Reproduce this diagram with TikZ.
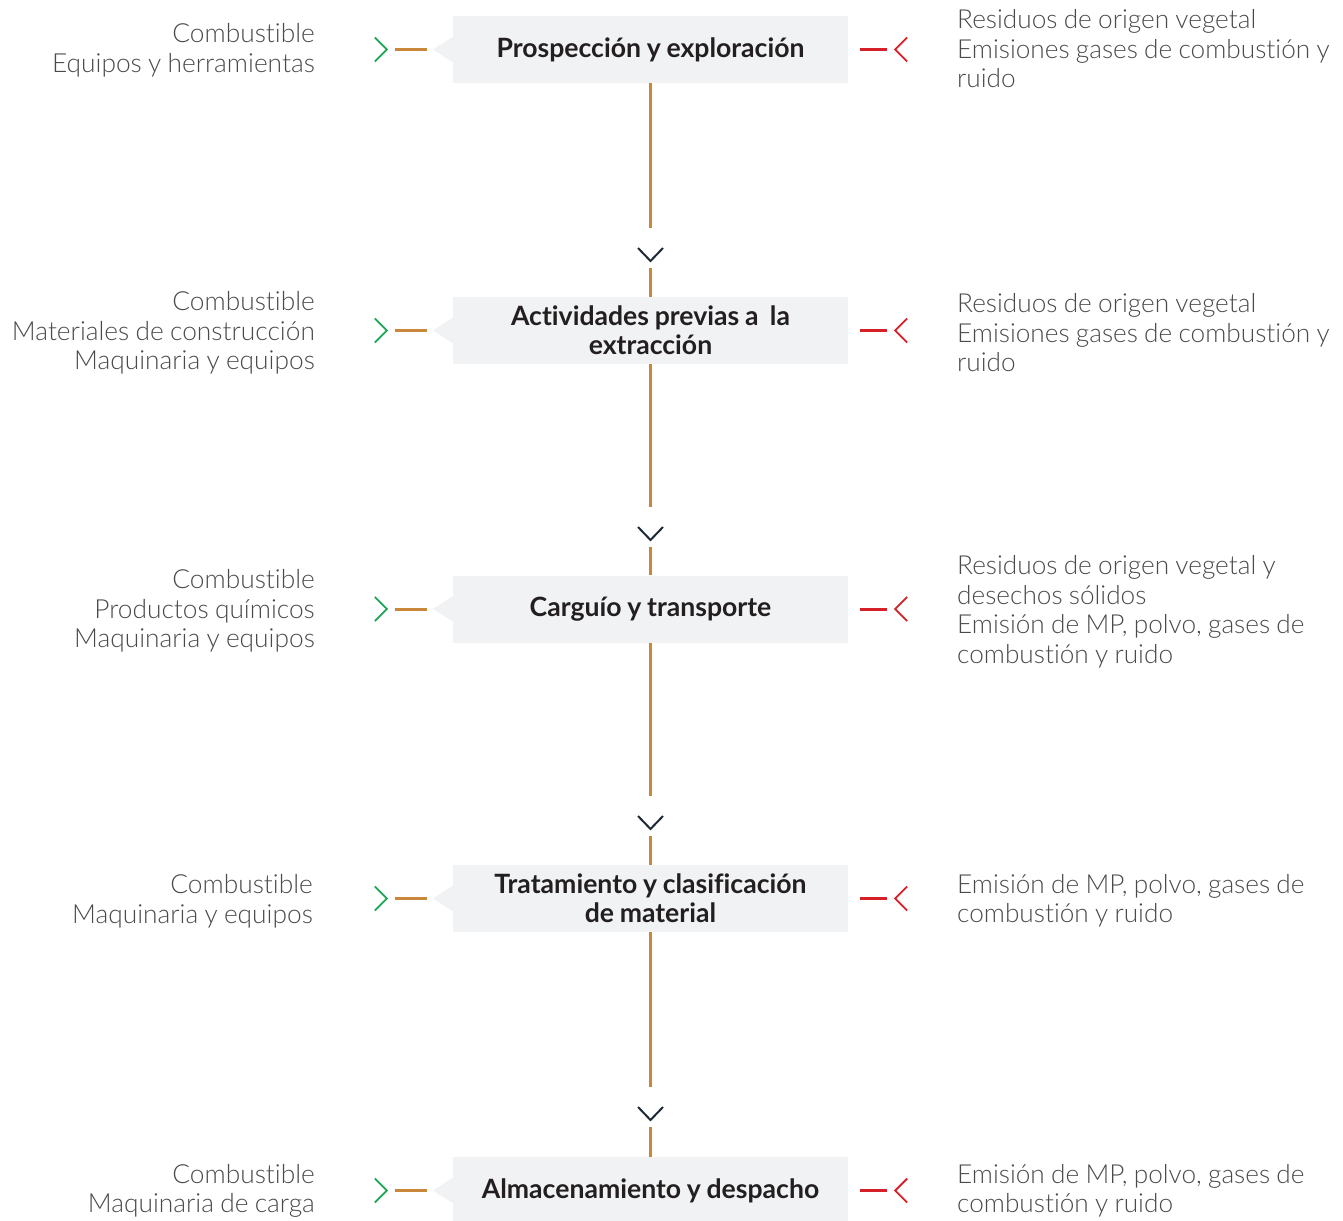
\documentclass[tikz,border=0pt]{standalone}
\usepackage{fontspec}
\setmainfont{Lato}[UprightFont=* Light, BoldFont=* Bold, Ligatures=NoCommon, WordSpace=0.88]
\usetikzlibrary{calc}
\definecolor{orangeline}{HTML}{C9873A}
\definecolor{boxfill}{HTML}{F1F2F4}
\definecolor{titlecol}{HTML}{231F20}
\definecolor{sidecol}{HTML}{4A4A4A}
\definecolor{darkchev}{HTML}{1E2A38}
\definecolor{greenc}{HTML}{1AA655}
\definecolor{redc}{HTML}{D52029}
\tikzset{
  stage/.style={fill=boxfill, minimum width=395pt, minimum height=67pt, inner sep=0pt, align=center,
    font=\fontsize{26.6}{29}\selectfont\bfseries, text=titlecol},
  intext/.style={anchor=east, align=right, inner sep=0pt, font=\fontsize{26.3}{29.5}\selectfont, text=sidecol},
  outtext/.style={anchor=west, align=left, inner sep=0pt, font=\fontsize{26.2}{29.5}\selectfont, text=sidecol},
  flow/.style={draw=orangeline, line width=2.5pt},
  chev/.style={draw=darkchev, line width=2pt},
  inchev/.style={draw=greenc, line width=1.8pt},
  outchev/.style={draw=redc, line width=1.8pt},
  indash/.style={draw=orangeline, line width=3pt},
  outdash/.style={draw=redc, line width=3pt},
}
\begin{document}
\begin{tikzpicture}[x=1pt,y=1pt]
\useasboundingbox (0,0) rectangle (1343,-1220);

\node[stage] (b1) at (650.5,-49.5) {Prospección y exploración};
\node[stage] (b2) at (650.5,-330.5) {Actividades previas a~ la\\extracción};
\node[stage] (b3) at (650.5,-609) {Carguío y transporte};
\node[stage] (b4) at (650.5,-898.5) {Tratamiento y clasificación\\de material};
\node[stage] (b5) at (650.5,-1190.5) {Almacenamiento y despacho};

\foreach \b in {b1,b2,b3,b4,b5}{
  \fill[boxfill] ($(\b.west)+(0.5,13)$) -- ($(\b.west)+(-20,0)$) -- ($(\b.west)+(0.5,-13)$) -- cycle;
  \draw[inchev] ($(\b.west)+(-78,12)$) -- ($(\b.west)+(-66,0)$) -- ($(\b.west)+(-78,-12)$);
  \draw[indash] ($(\b.west)+(-58,0)$) -- ($(\b.west)+(-26,0)$);
  \draw[outdash] ($(\b.east)+(12,0)$) -- ($(\b.east)+(39,0)$);
  \draw[outchev] ($(\b.east)+(59,12)$) -- ($(\b.east)+(47,0)$) -- ($(\b.east)+(59,-12)$);
}

\node[intext] (l1) at (315,-50) {Combustible\\Equipos y herramientas};
\node[outtext] (r1) at (957,-49) {Residuos de origen vegetal\\Emisiones gases de combustión y\\ruido};
\node[intext] (l2) at (315,-333) {Combustible\\Materiales de construcción\\Maquinaria y equipos};
\node[outtext] (r2) at (957,-333) {Residuos de origen vegetal\\Emisiones gases de combustión y\\ruido};
\node[intext] (l3) at (315,-611) {Combustible\\Productos químicos\\Maquinaria y equipos};
\node[outtext] (r3) at (957,-612) {Residuos de origen vegetal y\\desechos sólidos\\Emisión de MP, polvo, gases de\\combustión y ruido};
\node[intext] (l4) at (313,-901) {Combustible\\Maquinaria y equipos};
\node[outtext] (r4) at (957,-901) {Emisión de MP, polvo, gases de\\combustión y ruido};
\node[intext] (l5) at (315,-1191) {Combustible\\Maquinaria de carga};
\node[outtext] (r5) at (957,-1191) {Emisión de MP, polvo, gases de\\combustión y ruido};

\coordinate (v1) at (650.5,-261);
\coordinate (v2) at (650.5,-540);
\coordinate (v3) at (650.5,-829);
\coordinate (v4) at (650.5,-1120);

\draw[flow] (b1.south) -- ($(v1)+(0,33)$);
\draw[chev] ($(v1)+(-12.5,13)$) -- (v1) -- ($(v1)+(12.5,13)$);
\draw[flow] ($(v1)+(0,-7)$) -- (b2.north);

\draw[flow] (b2.south) -- ($(v2)+(0,33)$);
\draw[chev] ($(v2)+(-12.5,13)$) -- (v2) -- ($(v2)+(12.5,13)$);
\draw[flow] ($(v2)+(0,-7)$) -- (b3.north);

\draw[flow] (b3.south) -- ($(v3)+(0,33)$);
\draw[chev] ($(v3)+(-12.5,13)$) -- (v3) -- ($(v3)+(12.5,13)$);
\draw[flow] ($(v3)+(0,-7)$) -- (b4.north);

\draw[flow] (b4.south) -- ($(v4)+(0,33)$);
\draw[chev] ($(v4)+(-12.5,13)$) -- (v4) -- ($(v4)+(12.5,13)$);
\draw[flow] ($(v4)+(0,-7)$) -- (b5.north);
\end{tikzpicture}
\end{document}
